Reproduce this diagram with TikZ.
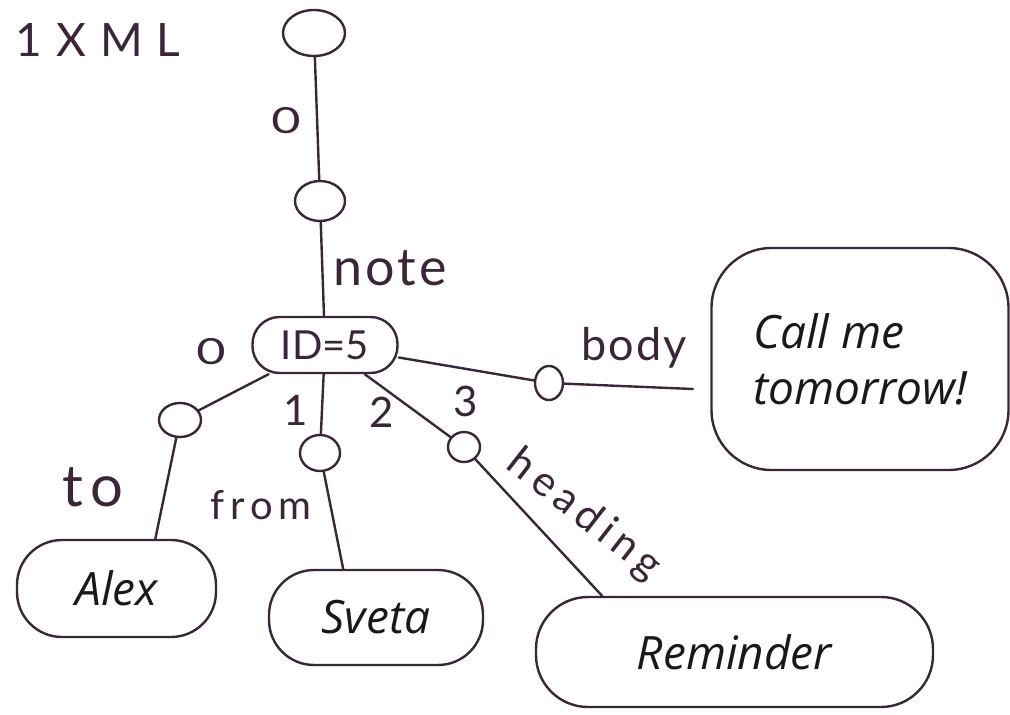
\documentclass[tikz,border=0pt]{standalone}
\usepackage{fontspec}
\setmainfont{Open Sans}
\newfontfamily\hand{Lato}
\usetikzlibrary{shapes.geometric}
\definecolor{ink}{RGB}{58,38,56}
\definecolor{type}{RGB}{25,25,25}

\begin{document}
\begin{tikzpicture}[x=1pt,y=-1pt,
  every node/.style={inner sep=0pt},
  wire/.style={draw=ink, line width=2.4pt, line cap=round},
  knot/.style={ellipse, draw=ink, line width=2.4pt},
  bubble/.style={rectangle, rounded corners=#1, draw=ink, line width=2.4pt,
                 text=type, font=\fontsize{46}{56}\selectfont\itshape},
  lozenge/.style={rectangle, rounded corners=27pt, draw=ink, line width=2.4pt,
                  text=ink, font=\hand\fontsize{40}{40}\selectfont},
  hw/.style={text=ink, font=\hand\fontsize{#1}{#1}\selectfont},
]
\useasboundingbox (0,0) rectangle (1010,715);

% element nodes of the tree
\node[knot, minimum width=62, minimum height=46] (root) at (314,33) {};
\node[knot, minimum width=50, minimum height=40] (knote) at (320,201) {};
\node[lozenge, minimum width=145, minimum height=56] (id) at (325,345) {ID=5};
\node[knot, minimum width=42, minimum height=34] (kto) at (180,420) {};
\node[knot, minimum width=40, minimum height=36] (kfrom) at (320,453) {};
\node[knot, minimum width=32, minimum height=30] (khead) at (464,447) {};
\node[knot, minimum width=28, minimum height=34] (kbody) at (549,383) {};

% text values
\node[bubble=45, minimum width=199, minimum height=97] (alex) at (116.5,588.5) {Alex};
\node[bubble=45, minimum width=214, minimum height=95] (sveta) at (376,617.5) {Sveta};
\node[bubble=52, minimum width=397, minimum height=110] (reminder) at (734.5,652) {Reminder};
\node[bubble=60, minimum width=297, minimum height=222, align=left] (call) at (860,359) {Call me\\tomorrow!};
\coordinate (bodyend) at (693,389);

% edges
\draw[wire] (root) -- (knote);
\draw[wire] (knote) -- (id);
\draw[wire] (id) -- (kto);
\draw[wire] (kto) -- (alex.52);
\draw[wire] (id) -- (kfrom);
\draw[wire] (kfrom) -- (sveta.124);
\draw[wire] (id) -- (khead);
\draw[wire] (khead) -- (reminder.157);
\draw[wire] (id) -- (kbody);
\draw[wire] (kbody) -- (bodyend);

% handwritten labels
\node[hw=46] (title) at (98,40) {\addfontfeature{LetterSpace=30}1XML};
\node[hw=36, xscale=1.4] (i0) at (286,121) {0};
\node[hw=52] (lnote) at (390,268) {\addfontfeature{LetterSpace=6}note};
\node[hw=36, xscale=1.4] (j0) at (211,352) {0};
\node[hw=42] (j1) at (296,410) {1};
\node[hw=42] (j2) at (382,412) {2};
\node[hw=42] (j3) at (466,401) {3};
\node[hw=45] (lbody) at (634,348) {\addfontfeature{LetterSpace=4}body};
\node[hw=58] (lto) at (93,487) {\addfontfeature{LetterSpace=12}to};
\node[hw=40] (lfrom) at (261,505) {\addfontfeature{LetterSpace=15}from};
\node[hw=42, rotate=-38] (lhead) at (584,515) {\addfontfeature{LetterSpace=15}heading};
\end{tikzpicture}
\end{document}
